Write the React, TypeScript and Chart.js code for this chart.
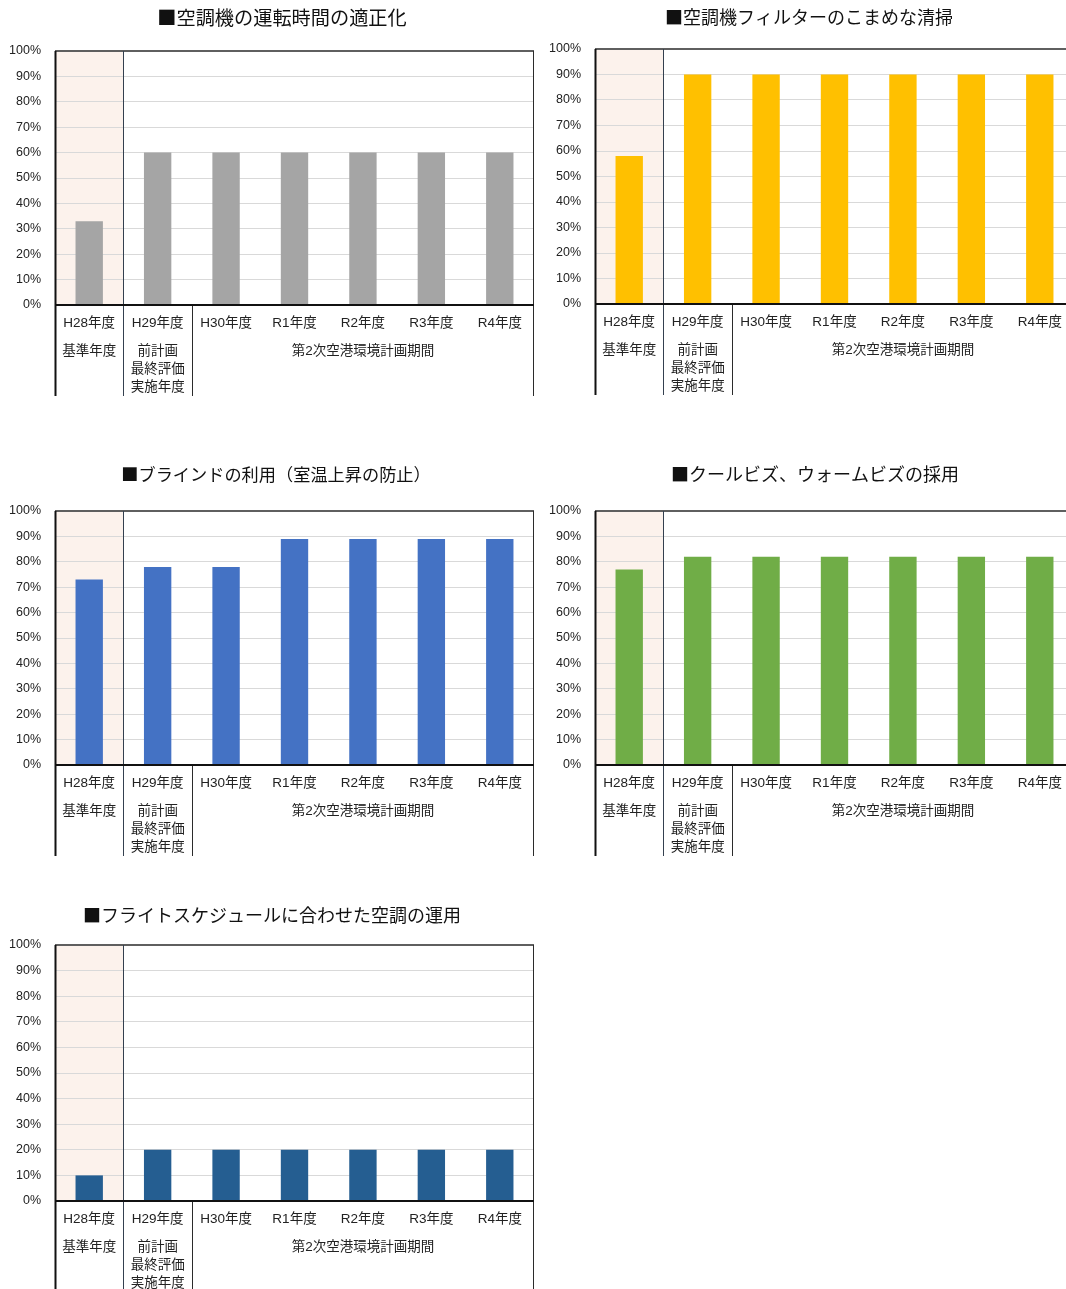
import { useEffect, useRef } from "react";
import { Chart, registerables } from "chart.js";

Chart.register(...registerables);

// Fiscal years on the category axis
const categories = ["H28年度", "H29年度", "H30年度", "R1年度", "R2年度", "R3年度", "R4年度"];

// Period captions under the year labels (lines, first and last category spanned)
const periodBaseline = ["基準年度"];
const periodPrevious = ["前計画", "最終評価", "実施年度"];
const periodSecond = ["第2次空港環境計画期間"];

// Y-axis range, percent
const yMin = 0;
const yMax = 100;
const yStep = 10;

// Implementation rates (%) per measure
const acRuntime = [33, 60, 60, 60, 60, 60, 60];
const filterCleaning = [58, 90, 90, 90, 90, 90, 90];
const blindUse = [73, 78, 78, 89, 89, 89, 89];
const coolBiz = [77, 82, 82, 82, 82, 82, 82];
const flightSchedule = [10, 20, 20, 20, 20, 20, 20];

const titles = [
  "■空調機の運転時間の適正化",
  "■空調機フィルターのこまめな清掃",
  "■ブラインドの利用（室温上昇の防止）",
  "■クールビズ、ウォームビズの採用",
  "■フライトスケジュールに合わせた空調の運用",
];

const periods = [
  { lines: periodBaseline, from: 0, to: 0 },
  { lines: periodPrevious, from: 1, to: 1 },
  { lines: periodSecond, from: 2, to: 6 },
];

type Panel = {
  title: string;
  titleSize: number;
  values: number[];
  color: string;
  left: number;
  top: number;
  titleX: number;
  titleY: number;
  plotTop: number;
  plotBottom: number;
};

const CANVAS_W = 540;
const CANVAS_H = 400;
const PLOT_LEFT = 55;
const PLOT_RIGHT = 534;

const panels: Panel[] = [
  { title: titles[0], titleSize: 19.2, values: acRuntime, color: "#a5a5a5", left: 0, top: 1, titleX: 282, titleY: 17, plotTop: 50, plotBottom: 304 },
  { title: titles[1], titleSize: 18, values: filterCleaning, color: "#ffc000", left: 540, top: 0, titleX: 269, titleY: 17, plotTop: 49, plotBottom: 304 },
  { title: titles[2], titleSize: 17.2, values: blindUse, color: "#4472c4", left: 0, top: 461, titleX: 276, titleY: 13, plotTop: 50, plotBottom: 304 },
  { title: titles[3], titleSize: 18, values: coolBiz, color: "#70ad47", left: 540, top: 461, titleX: 275, titleY: 13, plotTop: 50, plotBottom: 304 },
  { title: titles[4], titleSize: 18, values: flightSchedule, color: "#255e91", left: 0, top: 895, titleX: 272, titleY: 20, plotTop: 50, plotBottom: 306 },
];

const FONT_FAMILY = "'Liberation Sans', 'Noto Sans CJK JP', sans-serif";
const TEXT_COLOR = "#222222";

// Draws the shaded base-year band, frame, period table and the panel title
const panelDecor = {
  id: "panelDecor",
  beforeDraw(chart: any) {
    const { ctx, chartArea } = chart;
    const x = chart.scales.x;
    const half = (x.getPixelForValue(1) - x.getPixelForValue(0)) / 2;
    const bandRight = x.getPixelForValue(0) + half;
    ctx.save();
    ctx.fillStyle = "#fcf2ec";
    ctx.fillRect(chartArea.left, chartArea.top, bandRight - chartArea.left, chartArea.bottom - chartArea.top);
    ctx.restore();
  },
  afterDraw(chart: any, _args: any, opts: any) {
    const { ctx, chartArea } = chart;
    const x = chart.scales.x;
    const half = (x.getPixelForValue(1) - x.getPixelForValue(0)) / 2;
    const edge = (i: number) => Math.round(x.getPixelForValue(i) + half) + 0.5;
    const tableBottom = chartArea.bottom + 91;
    const L = Math.round(chartArea.left) + 0.5;
    const R = Math.round(chartArea.right) - 0.5;
    ctx.save();

    // frame
    ctx.lineWidth = 2;
    ctx.strokeStyle = "#5f5f5f";
    ctx.beginPath();
    ctx.moveTo(chartArea.left, chartArea.top);
    ctx.lineTo(chartArea.right, chartArea.top);
    ctx.stroke();

    ctx.lineWidth = 1;
    ctx.strokeStyle = "#2b2b2b";
    ctx.beginPath();
    ctx.moveTo(R, chartArea.top);
    ctx.lineTo(R, tableBottom);
    ctx.stroke();

    ctx.strokeStyle = "#111111";
    ctx.lineWidth = 2;
    ctx.beginPath();
    ctx.moveTo(L, chartArea.top);
    ctx.lineTo(L, tableBottom);
    ctx.stroke();

    // base-year divider through plot and table
    ctx.lineWidth = 1;
    ctx.strokeStyle = "#34404f";
    ctx.beginPath();
    ctx.moveTo(edge(0), chartArea.top);
    ctx.lineTo(edge(0), tableBottom);
    ctx.stroke();

    // previous-plan divider in table only
    ctx.strokeStyle = "#2b2b2b";
    ctx.beginPath();
    ctx.moveTo(edge(1), chartArea.bottom);
    ctx.lineTo(edge(1), tableBottom);
    ctx.stroke();

    // category axis line
    ctx.strokeStyle = "#111111";
    ctx.lineWidth = 2;
    ctx.beginPath();
    ctx.moveTo(chartArea.left, Math.round(chartArea.bottom));
    ctx.lineTo(chartArea.right, Math.round(chartArea.bottom));
    ctx.stroke();

    // period captions
    ctx.fillStyle = TEXT_COLOR;
    ctx.font = `13.5px ${FONT_FAMILY}`;
    ctx.textAlign = "center";
    ctx.textBaseline = "middle";
    periods.forEach((p) => {
      const cx = (x.getPixelForValue(p.from) + x.getPixelForValue(p.to)) / 2;
      p.lines.forEach((line, i) => {
        ctx.fillText(line, cx, chartArea.bottom + 46 + i * 18);
      });
    });

    // title
    ctx.fillStyle = "#111111";
    ctx.font = `${opts.titleSize}px 'Noto Sans CJK JP', sans-serif`;
    ctx.fillText(opts.title, opts.titleX, opts.titleY);
    ctx.restore();
  },
};

function PanelChart({ panel }: { panel: Panel }) {
  const ref = useRef<HTMLCanvasElement | null>(null);

  useEffect(() => {
    if (!ref.current) return;
    const chart = new Chart(ref.current, {
      type: "bar",
      data: {
        labels: categories,
        datasets: [
          {
            data: panel.values,
            backgroundColor: panel.color,
            barPercentage: 0.4,
            categoryPercentage: 1,
          },
        ],
      },
      options: {
        animation: false,
        responsive: false,
        maintainAspectRatio: false,
        events: [],
        layout: {
          padding: { top: panel.plotTop, left: 0, right: CANVAS_W - PLOT_RIGHT, bottom: 0 },
        },
        plugins: {
          legend: { display: false },
          tooltip: { enabled: false },
          title: { display: false },
          panelDecor: {
            title: panel.title,
            titleSize: panel.titleSize,
            titleX: panel.titleX,
            titleY: panel.titleY,
          },
        } as any,
        scales: {
          x: {
            grid: { display: false, drawTicks: false },
            border: { display: false },
            ticks: {
              padding: 10,
              maxRotation: 0,
              autoSkip: false,
              color: TEXT_COLOR,
              font: { size: 13.5, family: FONT_FAMILY },
            },
            afterFit(scale: any) {
              scale.height = CANVAS_H - panel.plotBottom;
            },
          },
          y: {
            min: yMin,
            max: yMax,
            grid: { color: "#d9d9d9", drawTicks: false, lineWidth: 1 },
            border: { display: false },
            ticks: {
              stepSize: yStep,
              padding: 14,
              color: TEXT_COLOR,
              font: { size: 12.5, family: FONT_FAMILY },
              callback: (v: any) => `${v}%`,
            },
            afterFit(scale: any) {
              scale.width = PLOT_LEFT;
            },
          },
        },
      },
      plugins: [panelDecor as any],
    });
    return () => chart.destroy();
  }, [panel]);

  return (
    <canvas
      ref={ref}
      width={CANVAS_W}
      height={CANVAS_H}
      style={{
        position: "absolute",
        left: panel.left,
        top: panel.top,
        width: CANVAS_W,
        height: CANVAS_H,
      }}
    />
  );
}

export default function App() {
  return (
    <div
      style={{
        position: "fixed",
        left: 0,
        top: 0,
        width: 1066,
        height: 1289,
        overflow: "hidden",
        background: "#ffffff",
      }}
    >
      {panels.map((p, i) => (
        <PanelChart key={i} panel={p} />
      ))}
    </div>
  );
}
